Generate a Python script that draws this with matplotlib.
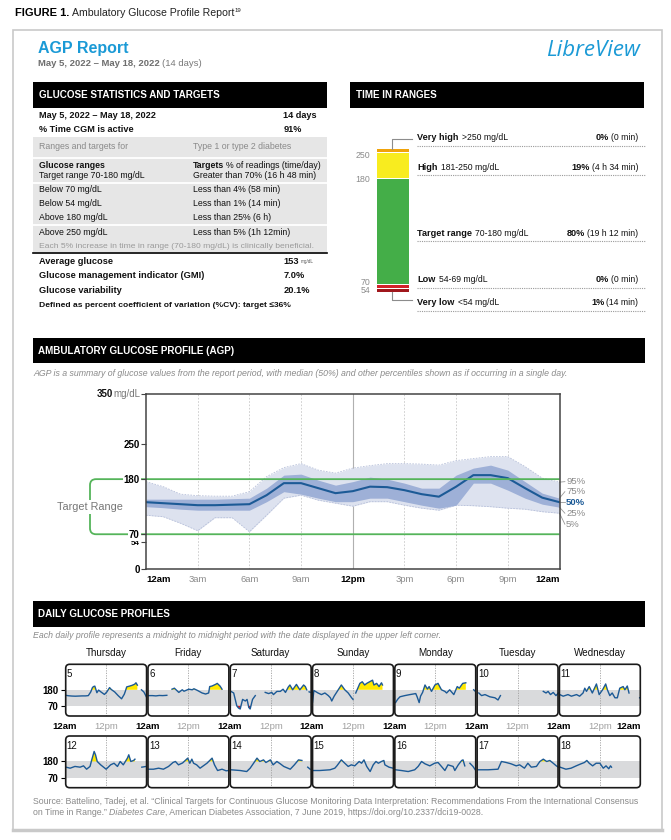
import matplotlib
matplotlib.use("Agg")
import matplotlib.pyplot as plt
import matplotlib.transforms as mtransforms
from matplotlib.patches import Rectangle, FancyBboxPatch, PathPatch
from matplotlib.path import Path
import numpy as np

plt.rcParams["font.family"] = ["Liberation Sans", "DejaVu Sans"]

W, H = 671, 840
BLUE = "#1b9ad6"
TRACE = "#1c5a96"
GREEN = "#55b45a"
GREY_TXT = "#8a8a8a"
BAND = "#d9dadc"

# ---- glucose statistics ----
stat_period = "May 5, 2022 – May 18, 2022"
stat_days = "14 days"
cgm_active = "91%"
range_rows = ["Below 70 mg/dL", "Below 54 mg/dL", "Above 180 mg/dL", "Above 250 mg/dL"]
target_rows = ["Less than 4% (58 min)", "Less than 1% (14 min)",
               "Less than 25% (6 h)", "Less than 5% (1h 12min)"]
summary_names = ["Average glucose", "Glucose management indicator (GMI)", "Glucose variability"]
summary_vals = ["153", "7.0%", "20.1%"]

# ---- time in ranges ----
tir_names = ["Very high", "High", "Target range", "Low", "Very low"]
tir_ranges = [">250 mg/dL", "181-250 mg/dL", "70-180 mg/dL", "54-69 mg/dL", "<54 mg/dL"]
tir_pct = [0, 19, 80, 0, 1]
tir_time = ["(0 min)", "(4 h 34 min)", "(19 h 12 min)", "(0 min)", "(14 min)"]
tir_colors = ["#f0a30a", "#f8ec1f", "#44ae48", "#d3222a", "#a0171c"]
tir_bounds = ["250", "180", "70", "54"]

# ---- AGP percentiles, hourly (mg/dL) ----
agp_hours = list(range(25))
agp_p95 = [175, 165, 150, 147, 146, 146, 155, 185, 203, 211, 198, 192, 202, 207, 211, 211, 210, 208, 217, 221, 225, 225, 205, 182, 174]
agp_p75 = [140, 140, 140, 140, 140, 141, 142, 162, 188, 190, 178, 168, 175, 184, 180, 172, 162, 162, 188, 202, 208, 198, 175, 152, 142]
agp_p50 = [134, 132, 130, 128, 128, 129, 130, 148, 172, 172, 162, 152, 156, 165, 164, 158, 150, 145, 165, 188, 188, 182, 162, 143, 134]
agp_p25 = [125, 123, 120, 118, 118, 118, 118, 135, 155, 150, 142, 135, 135, 142, 142, 135, 128, 122, 128, 172, 172, 158, 142, 130, 124]
agp_p5 = [108, 105, 92, 77, 103, 103, 75, 108, 142, 148, 138, 132, 126, 135, 135, 128, 122, 118, 128, 127, 125, 122, 120, 115, 112]
pct_names = ["95%", "75%", "50%", "25%", "5%"]
pct_label_at = [175, 155, 134, 112, 90]
agp_ticks = [0, 3, 6, 9, 12, 15, 18, 21, 24]
agp_ticklabels = ["12am", "3am", "6am", "9am", "12pm", "3pm", "6pm", "9pm", "12am"]

# ---- daily profiles: (hour, mg/dL), None = gap ----
day_names = ["Thursday", "Friday", "Saturday", "Sunday", "Monday", "Tuesday", "Wednesday"]
day05 = [(0, 143), (1, 139), (2, 137), (3, 136), (4, 137), (5, 138), (6, 138), (6.8, 140), (7.5, 165), (8.0, 195),
         (8.3, 202), (8.7, 205), (9.3, 160), (9.8, 178), (10.5, 165), (11.5, 148), (12.2, 165), (13.0, 195),
         (13.5, 182), (14.5, 165), (15.5, 140), (16.5, 118), (17.3, 150), (17.6, 170), (18.0, 200), (18.8, 205),
         (19.5, 210), (20.3, 218), (20.7, 228), (21.1, 212), None, (22.3, 180), (23.0, 165), (23.7, 133)]
day06 = [(0.4, 140), (1.5, 140), (2.5, 138), (3.5, 141), (4.5, 140), (5.7, 142), None, (7.2, 184), (7.9, 191),
         (9.2, 162), (10.2, 180), (10.7, 170), (12.1, 184), (13.1, 180), (13.6, 187), (14.6, 176), (16.0, 158),
         (17.0, 151), (17.9, 158), (18.2, 202), (18.9, 206), (19.9, 217), (20.4, 224), (21.2, 206), (21.8, 184)]
day07 = [(0.4, 169), (1.2, 158), (2.1, 70), (2.6, 55), (3.1, 48), (3.8, 114), (4.6, 103), (5.1, 114), (5.6, 59),
         (6.0, 48), (6.7, 114), (7.5, 140), None, (10.4, 162), (11.4, 154), (12.3, 162), (12.8, 147), (13.8, 169),
         (14.8, 169), (15.6, 184), (16.3, 162), (17.1, 198), (17.6, 213), (18.4, 180), (19.5, 217), (20.0, 198),
         (20.5, 180), (21.6, 213), (22.1, 202), (22.5, 180), None, (23.2, 166), (23.5, 163)]
day08 = [(0.2, 95), (0.6, 175), (1.8, 158), (2.8, 147), (3.8, 158), (4.8, 140), (5.4, 125), (5.8, 103), (6.5, 136),
         (7.7, 180), (8.6, 213), (9.6, 180), (10.6, 158), (11.6, 125), (12.0, 114), None, (12.8, 158), (14.0, 224),
         (14.7, 235), (15.4, 213), (16.0, 224), (17.7, 246), (18.1, 213), (18.9, 224), (19.6, 202), (20.3, 228),
         (20.6, 213)]
day09 = [(0.4, 92), (1.0, 114), (1.7, 132), (3.1, 140), (4.6, 147), (6.3, 154), (6.7, 132), (7.3, 92), (7.7, 136),
         (8.3, 162), (9.0, 213), (9.7, 185), (10.2, 202), (10.9, 169), (11.9, 213), (12.8, 224), (13.8, 180),
         (14.8, 169), (15.3, 158), (16.2, 180), (17.4, 147), (18.4, 202), (19.0, 191), (20.0, 224), (20.9, 228),
         None, (23.2, 180), (23.7, 169)]
day10 = [(0.7, 158), (1.5, 140), (2.5, 147), (3.9, 132), (5.4, 125), (6.3, 110), (7.0, 140), None, (19.5, 169),
         (20.3, 158), (20.9, 169), (21.6, 147), (22.4, 162), (23.2, 140), (23.9, 158)]
day11 = [(0.3, 147), (1.3, 136), (2.7, 147), (3.7, 136), (5.2, 147), (6.1, 136), (7.1, 158), (7.6, 191), (8.1, 169),
         (8.9, 202), (9.8, 158), (11.0, 220), (11.8, 147), (12.8, 180), (13.7, 220), (14.2, 180), (14.9, 140),
         (15.6, 158), (16.4, 125), (17.1, 125), (17.8, 191), (18.8, 202), (19.3, 180), (20.0, 206), (20.5, 158),
         None, (23.6, 125), (23.8, 125)]
day12 = [(0.3, 141), (1.5, 134), (2.9, 146), (4.4, 141), (5.4, 150), (6.3, 127), (7.3, 146), (7.8, 191), (8.5, 249),
         (8.9, 226), (9.4, 180), (10.4, 157), (12.0, 127), (13.3, 157), (14.3, 168), (15.3, 146), (16.1, 180),
         (17.0, 157), (18.2, 203), (18.6, 226), (19.2, 180), (20.0, 187), (20.4, 196), None, (22.4, 141), (23.7, 146)]
day13 = [(0.4, 127), (1.8, 127), (3.3, 134), (4.7, 127), (6.2, 146), (7.5, 173), (8.2, 180), (9.1, 157), (10.3, 170),
         (11.8, 203), (12.4, 168), (13.0, 196), (13.5, 168), (14.4, 157), (15.4, 134), (17.4, 168), (18.9, 203),
         (19.6, 157), (20.5, 118), (21.8, 127), (23.0, 116), (23.7, 118)]
day14 = [(0.4, 123), (3.1, 118), (5.0, 111), (6.0, 134), (7.0, 168), (8.0, 203), (8.8, 180), (9.9, 191), (10.6, 173),
         (11.9, 191), (12.7, 157), (13.8, 180), (14.8, 164), (15.8, 146), (17.7, 127), (18.9, 157), (20.1, 191),
         (21.1, 187), None, (22.8, 141), (23.5, 127)]
day15 = [(0.4, 118), (2.3, 118), (5.3, 123), (6.7, 134), (7.3, 150), (8.6, 191), (9.6, 168), (10.6, 146), (11.5, 157),
         (12.5, 150), (13.8, 180), (14.5, 168), (15.2, 191), (16.0, 146), (17.0, 111), (17.9, 157), (18.7, 180),
         (19.4, 168), (20.3, 180), (21.0, 187), (21.3, 157), (22.5, 141), (23.7, 134)]
day16 = [(0.4, 123), (2.1, 118), (4.1, 111), (6.0, 123), (7.0, 146), (8.0, 180), (9.0, 164), (10.4, 150), (11.8, 168),
         (12.8, 173), (13.8, 146), (14.8, 118), (15.7, 157), (17.2, 146), (17.7, 118), (18.7, 157), (19.7, 187),
         (20.1, 191), (20.6, 150), None, (22.1, 168), (23.0, 146), (23.8, 118)]
day17 = [(0.5, 123), (3.4, 123), (6.3, 127), (7.3, 180), (8.7, 173), (10.1, 164), (11.6, 150), (12.6, 157), (14.0, 134),
         (15.0, 168), (16.0, 141), (17.5, 146), (18.5, 180), (19.5, 196), (20.5, 180), (21.4, 187), (22.4, 168),
         (23.3, 150), (23.9, 141)]
day18 = [(0.4, 141), (2.1, 127), (3.6, 134), (5.1, 150), (6.5, 164), (7.5, 173), (8.2, 187), (8.9, 168), (9.9, 150),
         (10.9, 168), (12.0, 168), (13.0, 134), (13.8, 150), (14.6, 130), (15.1, 150), (15.4, 141)]
daily = [day05, day06, day07, day08, day09, day10, day11, day12, day13, day14, day15, day16, day17, day18]
day_dates = list(range(5, 19))

fig = plt.figure(figsize=(W / 100, H / 100), dpi=100)
fig.patch.set_facecolor("white")


def frac(x0, y0, x1, y1):
    # pixel box (top-left origin) -> figure fraction rect
    return [x0 / W, 1 - y1 / H, (x1 - x0) / W, (y1 - y0) / H]


# ---------------- AGP chart ----------------
ag = fig.add_axes(frac(146, 394, 559.5, 569.3))
ag.set_xlim(0, 24)
ag.set_ylim(0, 350)
ag.set_axisbelow(False)
for h in [3, 6, 9, 15, 18, 21]:
    ag.axvline(h, color="#c8c8c8", lw=0.6, ls=(0, (2, 2)), zorder=0.5)
ag.axvline(12, color="#b0b0b0", lw=0.8, zorder=0.5)
ag.fill_between(agp_hours, agp_p5, agp_p95, color="#dde2ef", lw=0, zorder=1)
ag.plot(agp_hours, agp_p95, color="#b7c0da", lw=0.6, ls=(0, (2, 1.5)), zorder=1.1)
ag.plot(agp_hours, agp_p5, color="#b7c0da", lw=0.6, ls=(0, (2, 1.5)), zorder=1.1)
ag.fill_between(agp_hours, agp_p25, agp_p75, color="#9eb0d7", lw=0, zorder=1.2)
ag.plot(agp_hours, agp_p50, color=TRACE, lw=1.5, zorder=1.5)

trans = mtransforms.blended_transform_factory(ag.transAxes, ag.transData)
xb = (90 - 146) / 413.5
rx, ry = 6 / 413.5, 12
verts = [(1, 180), (xb + rx, 180), (xb, 180), (xb, 180 - ry), (xb, 70 + ry), (xb, 70), (xb + rx, 70), (1, 70)]
codes = [Path.MOVETO, Path.LINETO, Path.CURVE3, Path.CURVE3, Path.LINETO, Path.CURVE3, Path.CURVE3, Path.LINETO]
ag.add_patch(PathPatch(Path(verts, codes), transform=trans, fc="none", ec=GREEN, lw=1.3, clip_on=False, zorder=2))
ag.text(xb, 125, "Target Range", transform=trans, ha="center", va="center", color="#777777", fontsize=7.8,
        bbox=dict(fc="white", ec="none", pad=1.5), zorder=3)

ends = [agp_p95[-1], agp_p75[-1], agp_p50[-1], agp_p25[-1], agp_p5[-1]]
for name, lab_v, end_v in zip(pct_names, pct_label_at, ends):
    ag.plot([1.0, 1.013], [end_v, lab_v], transform=trans, color="#999999", lw=0.6, clip_on=False)
    bold = name == "50%"
    ag.text(1.016, lab_v, name, transform=trans, ha="left", va="center", fontsize=6.8,
            color=TRACE if bold else GREY_TXT, fontweight="bold" if bold else "normal")

ag.set_yticks([0, 54, 70, 180, 250, 350])
ag.set_yticklabels(["0", "54", "70", "180", "250", ""])
ag.tick_params(axis="y", length=3.5, width=0.8, color="#444444", pad=1)
for lbl in ag.get_yticklabels():
    lbl.set_fontweight("bold")
    lbl.set_fontsize(5.8 if lbl.get_text() == "54" else 7)
    lbl.set_bbox(dict(fc="white", ec="none", pad=0.6))
ag.set_xticks(agp_ticks)
ag.set_xticklabels(agp_ticklabels)
ag.tick_params(axis="x", length=0, pad=4)
xl = ag.get_xticklabels()
for i, lbl in enumerate(xl):
    lbl.set_fontsize(6.8)
    if agp_ticklabels[i] in ("12am", "12pm"):
        lbl.set_fontweight("bold")
        lbl.set_color("black")
    else:
        lbl.set_color(GREY_TXT)
xl[0].set_ha("left")
xl[-1].set_ha("right")
for s in ag.spines.values():
    s.set_color("#444444")
    s.set_linewidth(1.1)

# ---------------- daily profiles ----------------
pw = (641 - 65) / 7
row_top = [664.3, 736]
ph = 51.7
panel_boxes = []
for i, (pts, date) in enumerate(zip(daily, day_dates)):
    row, col = divmod(i, 7)
    x0 = 65 + col * pw
    y0 = row_top[row]
    panel_boxes.append((x0, y0))
    a = fig.add_axes(frac(x0, y0, x0 + pw, y0 + ph))
    a.set_xlim(0, 24)
    a.set_ylim(0, 355)
    a.patch.set_visible(False)
    for s in a.spines.values():
        s.set_visible(False)
    a.axhspan(70, 180, color=BAND, lw=0, zorder=0)
    a.axvline(12, color="#a0a0a0", lw=0.6, ls=(0, (1.5, 1.5)), zorder=0.5)
    hh = np.array([p[0] if p else np.nan for p in pts])
    vv = np.array([p[1] if p else np.nan for p in pts], dtype=float)
    with np.errstate(invalid="ignore"):
        a.fill_between(hh, 180, vv, where=vv > 180, interpolate=True, color="#ffe800", lw=0, zorder=1)
        a.fill_between(hh, 70, vv, where=vv < 70, interpolate=True, color="#d3222a", lw=0, zorder=1)
    a.plot(hh, vv, color=TRACE, lw=1.0, zorder=2)
    a.annotate(str(date), (0, 1), xycoords="axes fraction", xytext=(1.3, -7.2), textcoords="offset points",
               ha="left", va="center", fontsize=7, color="#111111")
    if col == 0:
        a.set_yticks([70, 180])
        a.set_yticklabels(["70", "180"], fontweight="bold", fontsize=7)
        a.tick_params(axis="y", length=3, width=0.8, pad=1.5)
    else:
        a.set_yticks([])
    if row == 0:
        a.annotate(day_names[col], (0.5, 1), xycoords="axes fraction", xytext=(0, 8.3),
                   textcoords="offset points", ha="center", va="center", fontsize=7.1, color="#111111")
        ticks = [0, 12] + ([24] if col == 6 else [])
        labs = ["12am", "12pm"] + (["12am"] if col == 6 else [])
        a.set_xticks(ticks)
        a.set_xticklabels(labs, fontsize=6.8)
        a.tick_params(axis="x", length=0, pad=4.5)
        for lbl, t in zip(a.get_xticklabels(), labs):
            if t == "12am":
                lbl.set_fontweight("bold")
            else:
                lbl.set_color("#a0a0a0")
        if col == 6:
            a.get_xticklabels()[-1].set_ha("right")
    else:
        a.set_xticks([])

# ---------------- canvas overlay (text, bars, frames) ----------------
cv = fig.add_axes([0, 0, 1, 1], zorder=10)
cv.set_xlim(0, W)
cv.set_ylim(H, 0)
cv.axis("off")
rend = fig.canvas.get_renderer()


def run(x, y, parts, ha="left", **kw):
    # parts: (text, style, gap before in px); returns the end x
    seq = parts if ha == "left" else parts[::-1]
    for s, st, gap in seq:
        if ha == "left":
            x += gap
        t = cv.text(x, y, s, ha=ha, va="center", **{**kw, **st})
        w = t.get_window_extent(rend).width
        x = x + w if ha == "left" else x - w - gap
    return x


def bar(x0, y0, x1, y1, title):
    cv.add_patch(Rectangle((x0, y0), x1 - x0, y1 - y0, color="black", lw=0))
    cv.text(x0 + 5.5, (y0 + y1) / 2, title, color="white", fontweight="bold", fontsize=7.1, va="center")


B = {"fontweight": "bold"}
N = {"fontweight": "normal"}
TS = 6.3  # table text size
INK = "#111111"

# outer frame and titles
cv.add_patch(Rectangle((13, 29.5), 649, 800, fc="none", ec="#c9c9c9", lw=1.2))
cv.plot([13, 662], [829.5, 829.5], color="#c9c9c9", lw=2.5)
xe = run(15, 13.3, [("FIGURE 1.", {"fontweight": "heavy", "fontsize": 8, "color": "black"}, 0),
                    ("Ambulatory Glucose Profile Report", {"fontsize": 7.6, "color": "#222222"}, 2.5)])
cv.text(xe + 0.5, 10, "19", fontsize=4.3, color="#222222", va="center")
cv.text(38, 48, "AGP Report", color=BLUE, fontweight="bold", fontsize=11.5, va="center")
run(38, 63.3, [(stat_period, {"fontweight": "bold", "color": "#6e6e6e"}, 0),
               ("(14 days)", {"color": "#7a7a7a"}, 2)], fontsize=6.8)
cv.text(640, 50, "LibreView", color=BLUE, fontstyle="italic", fontsize=16, va="center", ha="right",
        family=["Open Sans", "DejaVu Sans"])

# glucose statistics
bar(33.3, 81.7, 326.7, 107.7, "GLUCOSE STATISTICS AND TARGETS")
LX, MX, RX = 39, 193.3, 283.3
cv.text(LX, 115, stat_period, fontweight="bold", fontsize=6.6, va="center", color=INK)
cv.text(RX, 115, stat_days, fontweight="bold", fontsize=6.6, va="center", color=INK)
cv.text(LX, 130, "% Time CGM is active", fontweight="bold", fontsize=6.6, va="center", color=INK)
cv.text(RX, 130, cgm_active, fontweight="bold", fontsize=6.6, va="center", color=INK)
cv.add_patch(Rectangle((33.3, 137.3), 293.4, 115, color="#e6e6e6", lw=0))
for yy in [157.7, 182.7, 225]:
    cv.plot([33.3, 326.7], [yy, yy], color="white", lw=1.3)
cv.plot([33.3, 326.7], [252.6, 252.6], color="black", lw=1.2)
cv.text(LX, 146.7, "Ranges and targets for", color=GREY_TXT, fontsize=TS, va="center")
cv.text(MX, 146.7, "Type 1 or type 2 diabetes", color=GREY_TXT, fontsize=TS, va="center")
cv.text(LX, 165, "Glucose ranges", fontweight="bold", fontsize=TS, va="center", color=INK)
cv.text(LX, 175.7, "Target range 70-180 mg/dL", fontsize=TS, va="center", color=INK)
run(MX, 165, [("Targets", B, 0), ("% of readings (time/day)", N, 1.8)], fontsize=TS, color=INK)
cv.text(MX, 175.7, "Greater than 70% (16 h 48 min)", fontsize=TS, va="center", color=INK)
for yy, a_txt, b_txt in zip([190, 204, 217.7, 232.3], range_rows, target_rows):
    cv.text(LX, yy, a_txt, fontsize=TS, va="center", color=INK)
    cv.text(MX, yy, b_txt, fontsize=TS, va="center", color=INK)
cv.text(LX, 246.7, "Each 5% increase in time in range (70-180 mg/dL) is clinically beneficial.",
        color="#9a9a9a", fontsize=6.1, va="center")
for yy, nm, vl in zip([261, 275.7, 290.7], summary_names, summary_vals):
    cv.text(LX, yy, nm, fontweight="bold", fontsize=6.7, va="center", color=INK)
    if nm == "Average glucose":
        run(RX, yy, [(vl, B, 0), ("mg/dL", {"fontsize": 3.3, "color": "#555555"}, 1.5)], fontsize=6.7, color=INK)
    else:
        cv.text(RX, yy, vl, fontweight="bold", fontsize=6.7, va="center", color=INK)
cv.text(LX, 305, "Defined as percent coefficient of variation (%CV): target \u226436%", fontweight="bold",
        fontsize=6.1, va="center", color=INK)

# time in ranges
bar(350, 81.7, 644, 107.7, "TIME IN RANGES")
bx0, bx1 = 376.7, 409
top, bottom, gap = 149, 292, 1.2
shown = [max(p, 2.2) for p in tir_pct]
avail = bottom - top - gap * (len(shown) - 1)
seg_top = []
yy = top
for p, c in zip(shown, tir_colors):
    hgt = p / sum(shown) * avail
    cv.add_patch(Rectangle((bx0, yy), bx1 - bx0, hgt, color=c, lw=0))
    seg_top.append(yy)
    yy += hgt + gap
label_y = [seg_top[1] + 2, seg_top[2], seg_top[3] - 3, seg_top[4] + 1.5]
for txt, ly in zip(tir_bounds, label_y):
    cv.text(370, ly, txt, color="#8c8c8c", fontsize=6.3, ha="right", va="center")
cv.plot([392, 392, 411.7], [top, 139.3, 139.3], color="#8c8c8c", lw=0.8)
cv.plot([392, 392, 411.7], [bottom, 300, 300], color="#8c8c8c", lw=0.8)
row_y = [137.7, 167.3, 233.3, 280, 302.7]
for ry_, nm, rg, pc, tm in zip(row_y, tir_names, tir_ranges, tir_pct, tir_time):
    run(417.3, ry_, [(nm, {"fontweight": "bold", "fontsize": 6.6}, 0), (rg, {"fontsize": 6.2}, 3)], color=INK)
    run(638.3, ry_, [("%d%%" % pc, {"fontweight": "bold", "fontsize": 6.6}, 0), (tm, {"fontsize": 6.2}, 2)],
        ha="right", color=INK)
    cv.plot([417.3, 645], [ry_ + 8, ry_ + 8], color="#9a9a9a", lw=0.8, ls=(0, (1, 1)))

# AGP header
bar(33, 337.7, 645, 363.3, "AMBULATORY GLUCOSE PROFILE (AGP)")
cv.text(33, 373.3, "AGP is a summary of glucose values from the report period, with median (50%) and other "
        "percentiles shown as if occurring in a single day.", fontstyle="italic", color=GREY_TXT,
        fontsize=6.3, va="center")
y350 = H - ag.transData.transform((0, 350))[1]
run(140.5, y350, [("350", {"fontweight": "bold", "color": INK}, 0),
                  ("mg/dL", {"color": "#777777"}, 0.5)], ha="right", fontsize=7)

# daily header
bar(33, 601, 645, 626.7, "DAILY GLUCOSE PROFILES")
cv.text(33, 635.7, "Each daily profile represents a midnight to midnight period with the date displayed in "
        "the upper left corner.", fontstyle="italic", color=GREY_TXT, fontsize=6.3, va="center")
for x0, y0 in panel_boxes:
    cv.add_patch(FancyBboxPatch((x0 + 0.7, y0), pw - 1.4, ph, boxstyle="round,pad=0,rounding_size=4",
                                fc="none", ec="#1a1a1a", lw=1.2))

# source
src_kw = dict(color="#8a8a8a", fontsize=6.3)
cv.text(33, 801.7, "Source: Battelino, Tadej, et al. \u201cClinical Targets for Continuous Glucose Monitoring "
        "Data Interpretation: Recommendations From the International Consensus", va="center", **src_kw)
run(33, 812.3, [("on Time in Range.\u201d", {}, 0), ("Diabetes Care", {"fontstyle": "italic"}, 2),
                (", American Diabetes Association, 7 June 2019, https://doi.org/10.2337/dci19-0028.", {}, 0)],
    **src_kw)

fig.savefig("out.png", dpi=100, facecolor="white")
